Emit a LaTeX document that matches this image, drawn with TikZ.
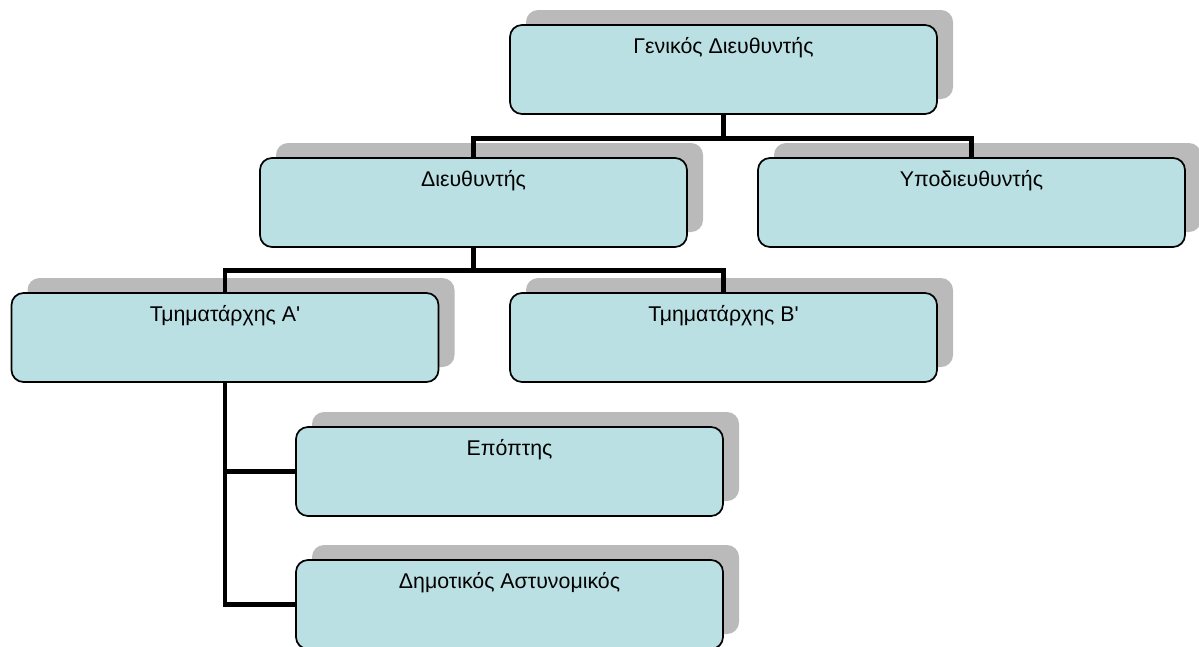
\documentclass[tikz,border=0pt]{standalone}
\usepackage{fontspec}
\setmainfont{Liberation Sans}
\usepackage{tikz}
\usetikzlibrary{shadows}

\definecolor{postfill}{RGB}{187,224,227}

\begin{document}
\begin{tikzpicture}[
            x=0.75pt, y=-0.75pt,
            post/.style={draw, line width=1.3pt, fill=postfill, rounded corners=9pt,
                minimum width=320.25pt, minimum height=66.75pt, inner xsep=0pt, inner ysep=0pt,
                text height=21pt, text depth=45.75pt,
                font=\fontsize{16pt}{19pt}\selectfont,
                drop shadow={shadow xshift=12pt, shadow yshift=11.25pt, fill=black!27, opacity=1}},
            link/.style={line width=3.6pt}
        ]
            \useasboundingbox (0,0) rectangle (1199,646);

            \node [post] (gen) at (723.5,69.5) {Γενικός Διευθυντής};
            \node [post] (dir) at (473.5,202.5) {Διευθυντής};
            \node [post] (subdir) at (971.5,202.5) {Υποδιευθυντής};
            \node [post] (secta) at (225,337.5) {Τμηματάρχης Α\textquotesingle};
            \node [post] (sectb) at (723.5,337.5) {Τμηματάρχης Β\textquotesingle};
            \node [post] (super) at (509.5,471.5) {Επόπτης};
            \node [post] (police) at (509.5,604.5) {Δημοτικός Αστυνομικός};

            \draw [link] (gen.south) -- ++(0,24) coordinate (genbar);
            \draw [link] (dir.north) |- (genbar) -| (subdir.north);

            \draw [link] (dir.south) -- ++(0,23) coordinate (dirbar);
            \draw [link] (secta.north) |- (dirbar) -| (sectb.north);

            \draw [link] (secta.south) |- (super.west);
            \draw [link] (secta.south) |- (police.west);
        \end{tikzpicture}
\end{document}
